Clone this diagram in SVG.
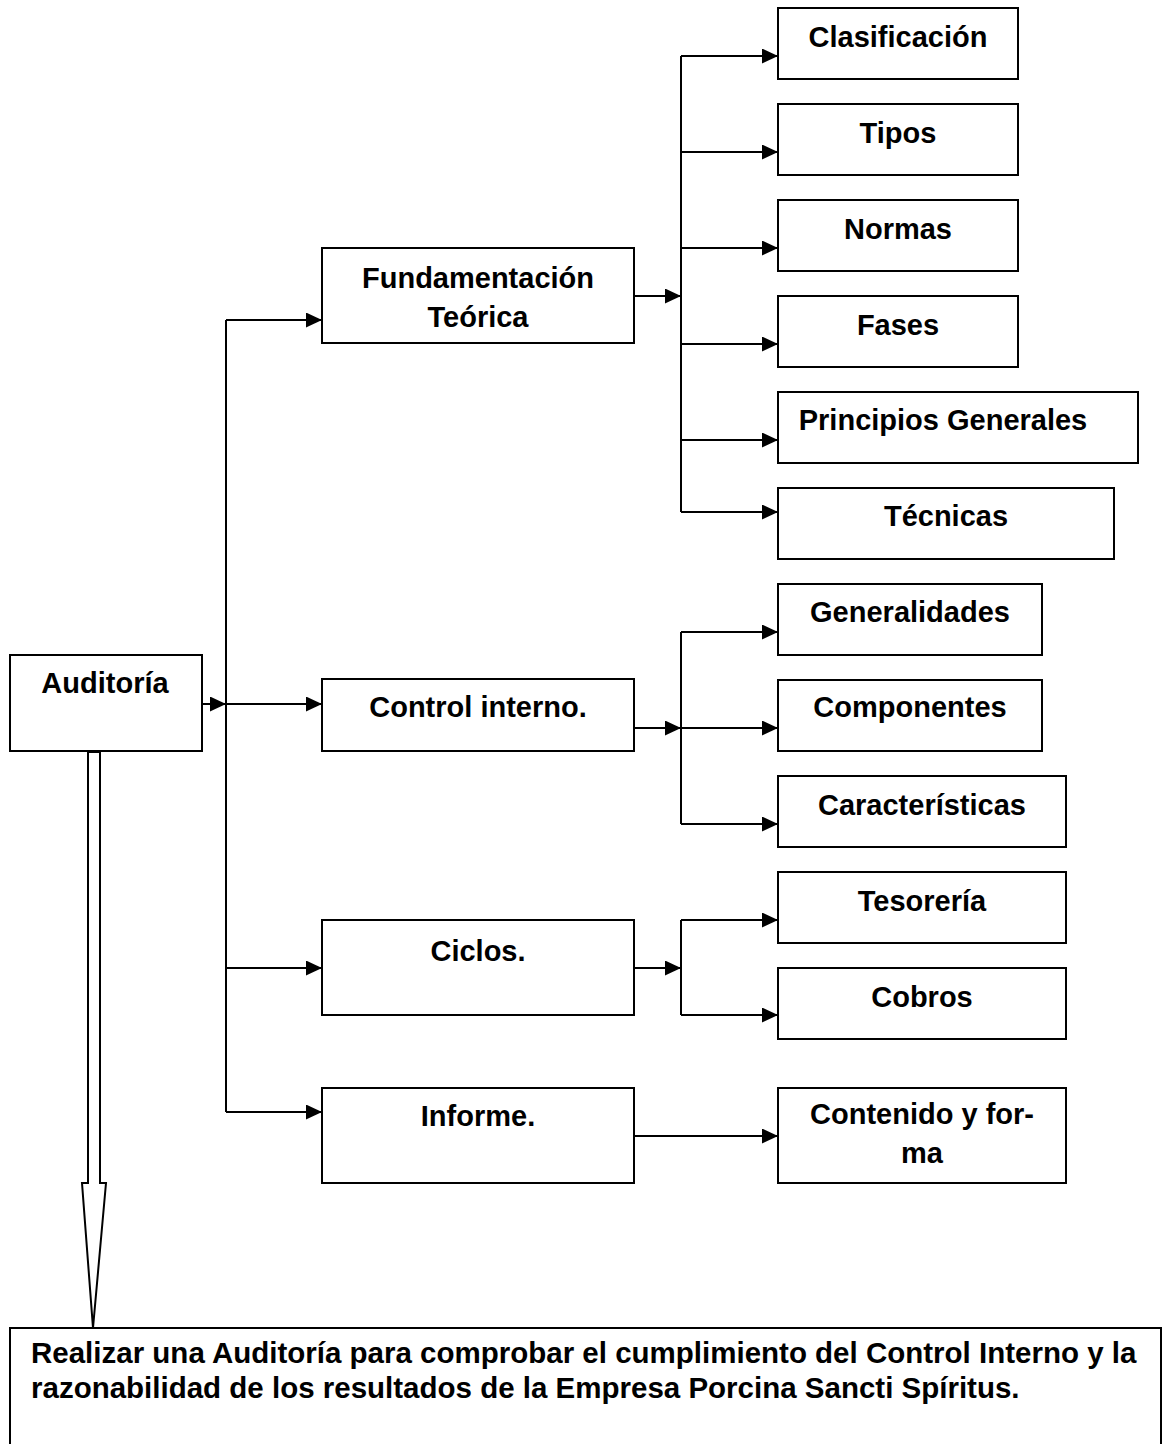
<svg xmlns="http://www.w3.org/2000/svg" width="1162" height="1444" viewBox="0 0 1162 1444">
<style>
.box{fill:#fff;stroke:#000;stroke-width:2}
.t{font-family:"Liberation Sans",Arial,sans-serif;font-weight:bold;font-size:29px;fill:#000;text-anchor:middle}
.tl{font-family:"Liberation Sans",Arial,sans-serif;font-weight:bold;font-size:29.5px;fill:#000}
.c{fill:none;stroke:#000;stroke-width:2}
</style>
<defs>
<marker id="ah" markerUnits="userSpaceOnUse" markerWidth="16" markerHeight="15" refX="16" refY="7.5" orient="auto">
<path d="M0,0 L16,7.5 L0,15 z" fill="#000"/>
</marker>
</defs>
<rect width="1162" height="1444" fill="#fff"/>
<g id="connectors">
<line class="c" x1="202" y1="704" x2="226" y2="704" marker-end="url(#ah)"/>
<line class="c" x1="226" y1="320" x2="226" y2="1112"/>
<line class="c" x1="226" y1="320" x2="322" y2="320" marker-end="url(#ah)"/>
<line class="c" x1="226" y1="704" x2="322" y2="704" marker-end="url(#ah)"/>
<line class="c" x1="226" y1="968" x2="322" y2="968" marker-end="url(#ah)"/>
<line class="c" x1="226" y1="1112" x2="322" y2="1112" marker-end="url(#ah)"/>
<line class="c" x1="634" y1="296" x2="681" y2="296" marker-end="url(#ah)"/>
<line class="c" x1="681" y1="56" x2="681" y2="512"/>
<line class="c" x1="681" y1="56" x2="778" y2="56" marker-end="url(#ah)"/>
<line class="c" x1="681" y1="152" x2="778" y2="152" marker-end="url(#ah)"/>
<line class="c" x1="681" y1="248" x2="778" y2="248" marker-end="url(#ah)"/>
<line class="c" x1="681" y1="344" x2="778" y2="344" marker-end="url(#ah)"/>
<line class="c" x1="681" y1="440" x2="778" y2="440" marker-end="url(#ah)"/>
<line class="c" x1="681" y1="512" x2="778" y2="512" marker-end="url(#ah)"/>
<line class="c" x1="634" y1="728" x2="681" y2="728" marker-end="url(#ah)"/>
<line class="c" x1="681" y1="632" x2="681" y2="824"/>
<line class="c" x1="681" y1="632" x2="778" y2="632" marker-end="url(#ah)"/>
<line class="c" x1="681" y1="728" x2="778" y2="728" marker-end="url(#ah)"/>
<line class="c" x1="681" y1="824" x2="778" y2="824" marker-end="url(#ah)"/>
<line class="c" x1="634" y1="968" x2="681" y2="968" marker-end="url(#ah)"/>
<line class="c" x1="681" y1="920" x2="681" y2="1015"/>
<line class="c" x1="681" y1="920" x2="778" y2="920" marker-end="url(#ah)"/>
<line class="c" x1="681" y1="1015" x2="778" y2="1015" marker-end="url(#ah)"/>
<line class="c" x1="634" y1="1136" x2="778" y2="1136" marker-end="url(#ah)"/>
<polygon points="88,752 100,752 100,1183 106,1183 93,1328 82,1183 88,1183" fill="#fff" stroke="#000" stroke-width="2" stroke-linejoin="miter"/>
</g>
<g id="auditoria"><rect class="box" x="10" y="655" width="192" height="96"/><text class="t" x="105" y="693">Auditoría</text></g>
<g id="fundamentacion"><rect class="box" x="322" y="248" width="312" height="95"/><text class="t" x="478" y="288">Fundamentación</text><text class="t" x="478" y="327">Teórica</text></g>
<g id="control"><rect class="box" x="322" y="679" width="312" height="72"/><text class="t" x="478" y="717">Control interno.</text></g>
<g id="ciclos"><rect class="box" x="322" y="920" width="312" height="95"/><text class="t" x="478" y="961">Ciclos.</text></g>
<g id="informe"><rect class="box" x="322" y="1088" width="312" height="95"/><text class="t" x="478" y="1126">Informe.</text></g>
<g id="clasificacion"><rect class="box" x="778" y="8" width="240" height="71"/><text class="t" x="898" y="47">Clasificación</text></g>
<g id="tipos"><rect class="box" x="778" y="104" width="240" height="71"/><text class="t" x="898" y="143">Tipos</text></g>
<g id="normas"><rect class="box" x="778" y="200" width="240" height="71"/><text class="t" x="898" y="239">Normas</text></g>
<g id="fases"><rect class="box" x="778" y="296" width="240" height="71"/><text class="t" x="898" y="335">Fases</text></g>
<g id="principios"><rect class="box" x="778" y="392" width="360" height="71"/><text class="t" x="943" y="430">Principios Generales</text></g>
<g id="tecnicas"><rect class="box" x="778" y="488" width="336" height="71"/><text class="t" x="946" y="526">Técnicas</text></g>
<g id="generalidades"><rect class="box" x="778" y="584" width="264" height="71"/><text class="t" x="910" y="622">Generalidades</text></g>
<g id="componentes"><rect class="box" x="778" y="680" width="264" height="71"/><text class="t" x="910" y="717">Componentes</text></g>
<g id="caracteristicas"><rect class="box" x="778" y="776" width="288" height="71"/><text class="t" x="922" y="815">Características</text></g>
<g id="tesoreria"><rect class="box" x="778" y="872" width="288" height="71"/><text class="t" x="922" y="911">Tesorería</text></g>
<g id="cobros"><rect class="box" x="778" y="968" width="288" height="71"/><text class="t" x="922" y="1007">Cobros</text></g>
<g id="contenido"><rect class="box" x="778" y="1088" width="288" height="95"/><text class="t" x="922" y="1124">Contenido y for-</text><text class="t" x="922" y="1163">ma</text></g>
<g id="objetivo"><rect class="box" x="10" y="1328" width="1151" height="140"/><text class="tl" x="31" y="1363">Realizar una Auditoría para comprobar el cumplimiento del Control Interno y la</text><text class="tl" x="31" y="1398">razonabilidad de los resultados de la Empresa Porcina Sancti Spíritus.</text></g>
</svg>
